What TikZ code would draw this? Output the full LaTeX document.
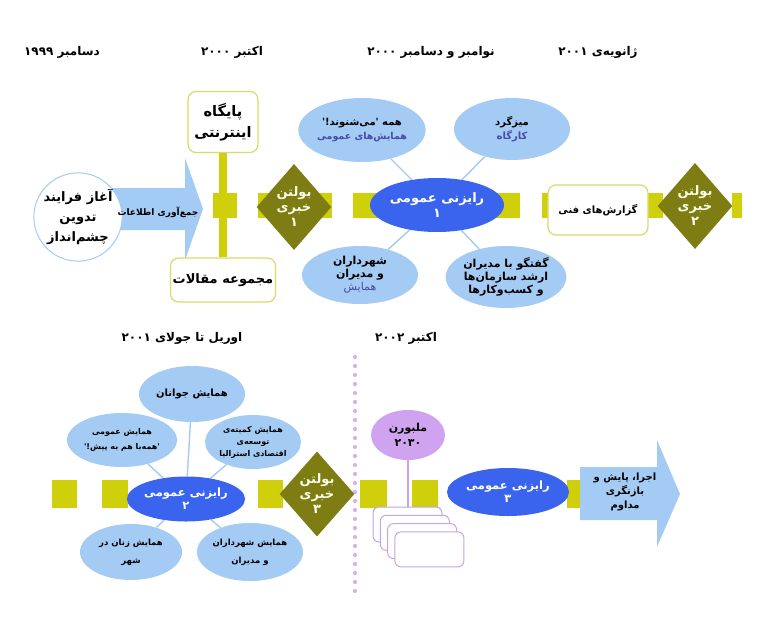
\documentclass[tikz,border=0pt]{standalone}
\usepackage{fontspec}
\newfontfamily\farsifont[Script=Arabic]{DejaVu Sans}
\TeXXeTstate=1
\definecolor{bandYellow}{HTML}{CFCF0C}
\definecolor{bulletOlive}{HTML}{7D7D14}
\definecolor{skyBlue}{HTML}{A3CBF4}
\definecolor{hubBlue}{HTML}{3A63EE}
\definecolor{frameGold}{HTML}{DADA6A}
\definecolor{noteInk}{HTML}{4A4AA8}
\definecolor{melbPurple}{HTML}{CFA3F0}
\definecolor{cardPurple}{HTML}{C9A2EA}
\usepackage{tikz}
\usetikzlibrary{positioning, shapes.geometric, backgrounds}
\newcommand{\rl}[1]{\beginR #1\endR}

\begin{document}
\begin{tikzpicture}[
    x=1pt, y=-1pt,
    every node/.style={font=\farsifont\bfseries\fontsize{12}{14}\selectfont, align=center, inner sep=0pt},
    sat/.style={ellipse, fill=skyBlue, font=\farsifont\bfseries\fontsize{10}{14}\selectfont},
    hub/.style={ellipse, fill=hubBlue, text=white, font=\farsifont\bfseries\fontsize{13}{15}\selectfont},
    bulletin/.style={diamond, fill=bulletOlive, text=white!92!yellow, minimum width=66pt, minimum height=86pt, font=\farsifont\bfseries\fontsize{13}{15}\selectfont},
    panel/.style={rectangle, draw=frameGold, line width=1.2pt, fill=white, rounded corners=8pt},
    card/.style={rectangle, draw=cardPurple, line width=1pt, fill=white, rounded corners=6pt, minimum width=69pt, minimum height=35pt},
    bandpiece/.style={fill=bandYellow},
    spoke/.style={draw=skyBlue, line width=1.4pt}
  ]
  \useasboundingbox (0,0) rectangle (768,616);

  % dates
  \node (d1999) at (62,52) {\rl{دسامبر ۱۹۹۹}};
  \node (d2000) at (232,52) {\rl{اکتبر ۲۰۰۰}};
  \node (dnov) at (431,52) {\rl{نوامبر و دسامبر ۲۰۰۰}};
  \node (djan) at (598,52) {\rl{ژانویه^^^^200cی ۲۰۰۱}};
  \node (dapr) at (182,338) {\rl{اوریل تا جولای ۲۰۰۱}};
  \node (doct) at (406,338) {\rl{اکتبر ۲۰۰۲}};

  % first row
  \node[circle, draw=skyBlue, line width=1pt, fill=white, minimum size=78pt, font=\farsifont\bfseries\fontsize{13}{20}\selectfont] (vision) at (78,217)
    {\rl{آغاز فرایند}\\\rl{تدوین}\\\rl{چشم^^^^200cانداز}};
  \node[font=\farsifont\bfseries\fontsize{9}{11}\selectfont] (gather) at (158,212) {\rl{جمع^^^^200cآوری اطلاعات}};
  \node[panel, minimum width=70pt, minimum height=61pt, font=\farsifont\bfseries\fontsize{14.5}{21}\selectfont] (web) at (223,122)
    {\rl{پایگاه}\\\rl{اینترنتی}};
  \node[panel, minimum width=105pt, minimum height=44pt, font=\farsifont\bfseries\fontsize{13}{20}\selectfont] (articles) at (223,280)
    {\rl{مجموعه مقالات}};
  \node[bulletin] (bul1) at (294,207) {\rl{بولتن}\\\rl{خبری}\\\rl{۱}};
  \node[hub, minimum width=134pt, minimum height=54pt] (cons1) at (437,205) {\rl{رایزنی عمومی}\\\rl{۱}};
  \node[sat, minimum width=120pt, minimum height=64pt] (talks) at (362,130)
    {\rl{همه 'می^^^^200cشنوند!'}\\{\color{noteInk}\fontsize{9.5}{14}\selectfont\rl{همایش^^^^200cهای عمومی}}};
  \node[sat, minimum width=116pt, minimum height=62pt] (roundtable) at (512,129)
    {\rl{میزگرد}\\{\color{noteInk}\rl{کارگاه}}};
  \node[sat, minimum width=116pt, minimum height=58pt, font=\farsifont\bfseries\fontsize{11}{13}\selectfont] (mayors) at (360,275)
    {\rl{شهرداران}\\\rl{و مدیران}\\{\color{noteInk}\mdseries\rl{همایش}}};
  \node[sat, minimum width=118pt, minimum height=62pt, font=\farsifont\bfseries\fontsize{11}{13}\selectfont] (leaders) at (506,277)
    {\rl{گفتگو با مدیران}\\\rl{ارشد سازمان^^^^200cها}\\\rl{و کسب^^^^200cوکارها}};
  \node[panel, minimum width=100pt, minimum height=50pt, font=\farsifont\bfseries\fontsize{10}{13}\selectfont] (reports) at (598,210)
    {\rl{گزارش^^^^200cهای فنی}};
  \node[bulletin, minimum width=64pt] (bul2) at (695,206) {\rl{بولتن}\\\rl{خبری}\\\rl{۲}};

  % second row
  \node[hub, minimum width=105pt, minimum height=45pt, font=\farsifont\bfseries\fontsize{11.5}{13}\selectfont] (cons2) at (186,499) {\rl{رایزنی عمومی}\\\rl{۲}};
  \node[bulletin, minimum width=64pt, minimum height=85pt] (bul3) at (317,494) {\rl{بولتن}\\\rl{خبری}\\\rl{۳}};
  \node[sat, minimum width=106pt, minimum height=56pt] (youth) at (192,394) {\rl{همایش جوانان}};
  \node[sat, minimum width=110pt, minimum height=54pt, font=\farsifont\bfseries\fontsize{8}{15}\selectfont] (forward) at (122,440)
    {\rl{همایش عمومی}\\\rl{'همه^^^^200cبا هم به پیش!'}};
  \node[sat, minimum width=96pt, minimum height=54pt, font=\farsifont\bfseries\fontsize{8}{12}\selectfont] (ecodev) at (253,442)
    {\rl{همایش کمیته^^^^200cی}\\\rl{توسعه^^^^200cی}\\\rl{اقتصادی استرالیا}};
  \node[sat, minimum width=102pt, minimum height=56pt, font=\farsifont\bfseries\fontsize{8.5}{18}\selectfont] (women) at (131,552)
    {\rl{همایش زنان در}\\\rl{شهر}};
  \node[sat, minimum width=106pt, minimum height=58pt, font=\farsifont\bfseries\fontsize{8.5}{18}\selectfont] (citymgr) at (250,552)
    {\rl{همایش شهرداران}\\\rl{و مدیران}};
  \node[ellipse, fill=melbPurple, minimum width=74pt, minimum height=50pt, font=\farsifont\bfseries\fontsize{11}{15}\selectfont] (melb) at (408,435)
    {\rl{ملبورن}\\\rl{۲۰۳۰}};
  \foreach \i in {0,...,3}
    \node[card] (card\i) at ({407.5+7.3*\i},{524.5+8.3*\i}) {};
  \node[hub, minimum width=122pt, minimum height=48pt, font=\farsifont\bfseries\fontsize{11.5}{13}\selectfont] (cons3) at (508,492) {\rl{رایزنی عمومی}\\\rl{۳}};
  \node[font=\farsifont\bfseries\fontsize{10}{14}\selectfont] (implement) at (625,492)
    {\rl{اجرا، پایش و}\\\rl{بازنگری}\\\rl{مداوم}};

  \begin{scope}[on background layer]
    \fill[white] (0,0) rectangle (768,616);
    % timeline band
    \fill[bandpiece] (213,193) rectangle (237,218);
    \fill[bandpiece] (258,193) rectangle (332,218);
    \fill[bandpiece] (353,193) rectangle (520,218);
    \fill[bandpiece] (542,193) rectangle (663,218);
    \fill[bandpiece] (732,193) rectangle (742,218);
    \fill[bandpiece] (52,480) rectangle (77,508);
    \fill[bandpiece] (102,480) rectangle (128,508);
    \fill[bandpiece] (258,480) rectangle (283,508);
    \fill[bandpiece] (360,480) rectangle (387,508);
    \fill[bandpiece] (412,480) rectangle (438,508);
    \fill[bandpiece] (567,480) rectangle (582,508);
    \draw[bandYellow, line width=8pt] (web.south) -- (web.south |- articles.north);
    % block arrows
    \fill[skyBlue] (90,188) -- (185,188) -- (185,158) -- (203,209) -- (185,260) -- (185,230) -- (90,230) -- cycle;
    \fill[skyBlue] (580,467) -- (657,467) -- (657,440) -- (680,494) -- (657,547) -- (657,520) -- (580,520) -- cycle;
    % spokes
    \draw[spoke] (talks) -- (cons1);
    \draw[spoke] (roundtable) -- (cons1);
    \draw[spoke] (mayors) -- (cons1);
    \draw[spoke] (leaders) -- (cons1);
    \draw[spoke] (youth) -- (cons2);
    \draw[spoke] (forward) -- (cons2);
    \draw[spoke] (ecodev) -- (cons2);
    \draw[spoke] (women) -- (cons2);
    \draw[spoke] (citymgr) -- (cons2);
    \draw[cardPurple, line width=1.2pt] (melb.south) -- (melb.south |- card0.north);
    % divider
    \draw[melbPurple!85!white, line width=4.2pt, line cap=round, dash pattern=on 0pt off 9pt] (355,357) -- (355,597);
  \end{scope}
\end{tikzpicture}
\end{document}
